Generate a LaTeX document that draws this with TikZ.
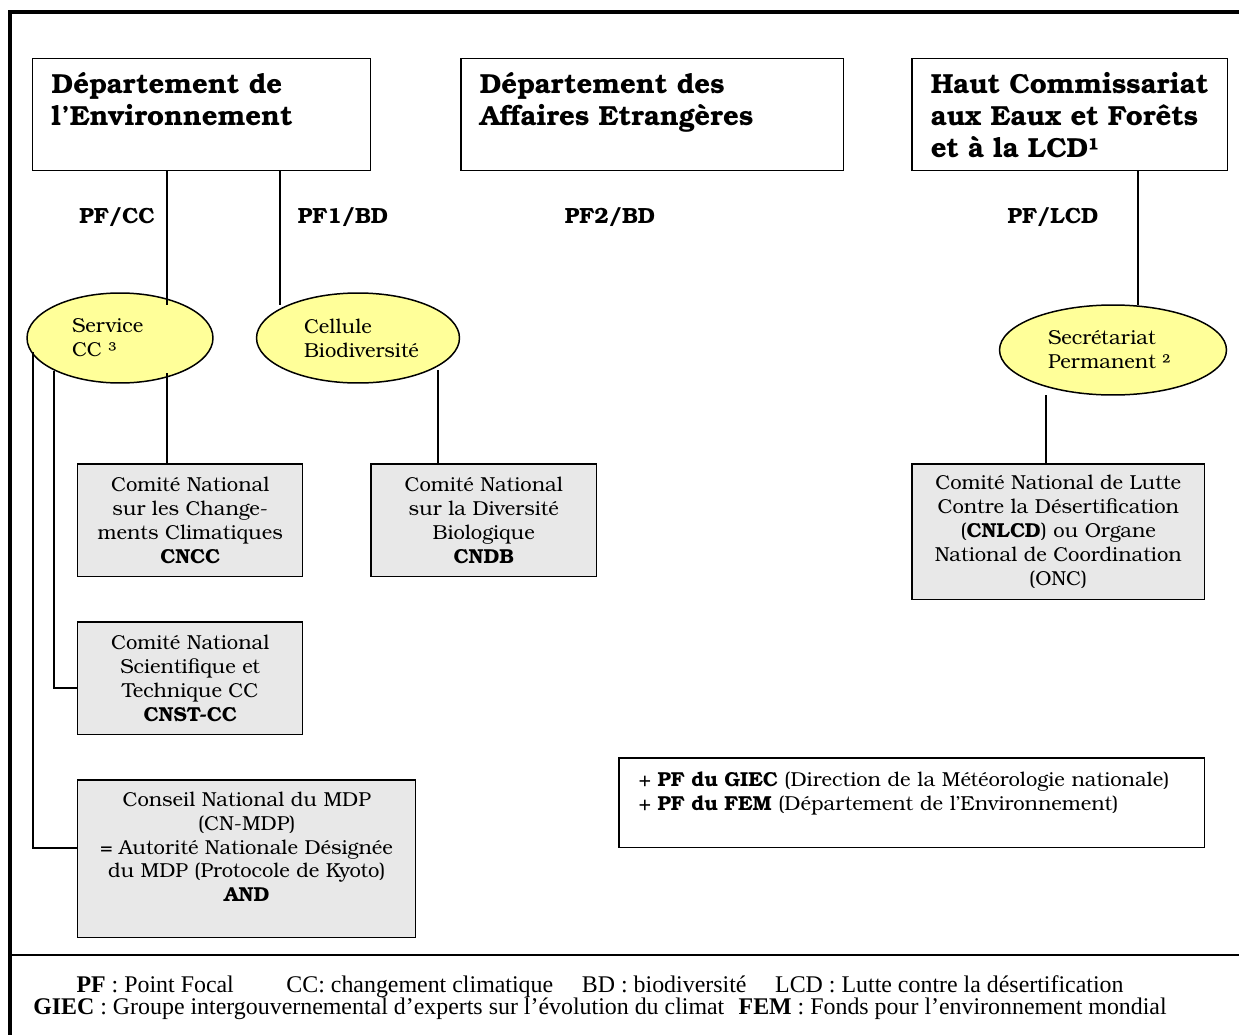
\documentclass[tikz,border=0pt]{standalone}
\usepackage{fontspec}
\setmainfont{texgyrebonum}[Extension=.otf, UprightFont=*-regular, BoldFont=*-bold, ItalicFont=*-italic, BoldItalicFont=*-bolditalic]
\newfontfamily\footfont{Liberation Serif}
\usetikzlibrary{shapes.geometric}
\definecolor{ellyellow}{RGB}{255,255,153}
\definecolor{boxgray}{RGB}{232,232,232}
\begin{document}
\begin{tikzpicture}[x=0.02cm,y=-0.02cm,
  head/.style={draw, line width=0.85pt, anchor=north west, align=left,
    font=\fontsize{15.7}{18.2}\selectfont\bfseries, inner xsep=0.38cm, inner ysep=0pt, minimum height=2.24cm},
  gbox/.style={draw, line width=0.85pt, fill=boxgray, anchor=north west, align=center,
    font=\fontsize{11.5}{13.6}\selectfont, inner sep=0pt},
  ell/.style={ellipse, draw, line width=0.85pt, fill=ellyellow, align=left,
    font=\fontsize{11.5}{13.6}\selectfont, inner sep=0pt, minimum height=1.8cm},
  pflabel/.style={font=\fontsize{12.5}{15}\selectfont\bfseries},
  conn/.style={line width=0.8pt}]
\useasboundingbox (0,0) rectangle (1239,1034);
% outer frame
\draw[line width=2.3pt] (10,1040) -- (10,12) -- (1245,12);
\draw[line width=1.4pt] (9,955) -- (1245,955);

% head boxes
\node[head, text width=6.0cm] (de) at (32,58) {Département de\\l’Environnement\\\mbox{}};
\node[head, text width=6.9cm] (dae) at (460,58) {Département des\\Affaires Etrangères\\\mbox{}};
\node[head, text width=5.56cm] (hc) at (911,58) {Haut Commissariat\\aux Eaux et Forêts\\et à la LCD¹};

% PF labels
\node[pflabel] (l1) at (117,217) {PF/CC};
\node[pflabel] (l2) at (343,217) {PF1/BD};
\node[pflabel] (l3) at (610,217) {PF2/BD};
\node[pflabel] (l4) at (1053,217) {PF/LCD};

% ellipses
\node[ell, minimum width=3.72cm, text width=1.92cm] (sc) at (120,338) {Service\\CC ³};
\node[ell, minimum width=4.06cm, text width=2.16cm] (cb) at (358,338) {Cellule\\Biodiversité};
\node[ell, minimum width=4.54cm, text width=2.6cm] (sp) at (1113,350) {Secrétariat\\Permanent ²};

% grey boxes
\node[gbox, minimum width=4.5cm, minimum height=2.26cm] (cncc) at (77,463)
  {Comité National\\sur les Change-\\ments Climatiques\\\textbf{CNCC}};
\node[gbox, minimum width=4.52cm, minimum height=2.26cm] (cndb) at (370,463)
  {Comité National\\sur la Diversité\\Biologique\\\textbf{CNDB}};
\node[gbox, minimum width=5.86cm, minimum height=2.72cm] (cnlcd) at (911,463)
  {Comité National de Lutte\\Contre la Désertification\\(\textbf{CNLCD}) ou Organe\\National de Coordination\\(ONC)};
\node[gbox, minimum width=4.5cm, minimum height=2.26cm] (cnst) at (77,621)
  {Comité National\\Scientifique et\\Technique CC\\\textbf{CNST-CC}};
\node[gbox, minimum width=6.76cm, minimum height=3.16cm] (cnmdp) at (77,779)
  {Conseil National du MDP\\(CN-MDP)\\= Autorité Nationale Désignée\\du MDP (Protocole de Kyoto)\\\textbf{AND}\\\mbox{}};

% note box
\node[draw, line width=0.85pt, anchor=north west, align=left, text width=10.92cm, inner xsep=0.4cm,
  inner ysep=0pt, minimum height=1.8cm, font=\fontsize{11.5}{13.6}\selectfont] (note) at (618,757)
  {+ \textbf{PF du GIEC} (Direction de la Météorologie nationale)\\+ \textbf{PF du FEM} (Département de l’Environnement)\\\mbox{}};

% connectors
\coordinate (p1) at (167,305);
\coordinate (p2) at (280,305);
\coordinate (p3) at (1138,305);
\coordinate (p4) at (167,373);
\coordinate (p5) at (438,370);
\coordinate (p6) at (1046,395);
\coordinate (p7) at (33,352);
\coordinate (p8) at (77,848);
\coordinate (p9) at (54,371);
\coordinate (p10) at (77,688);
\draw[conn] (de.south -| p1) -- (p1);
\draw[conn] (de.south -| p2) -- (p2);
\draw[conn] (hc.south -| p3) -- (p3);
\draw[conn] (p4) -- (cncc.north -| p4);
\draw[conn] (p5) -- (cndb.north -| p5);
\draw[conn] (p6) -- (cnlcd.north -| p6);
\draw[conn] (p7) |- (p8);
\draw[conn] (p9) |- (p10);

% footer
\node[font=\footfont\fontsize{13.6}{12.5}\selectfont, align=center] (foot) at (600,998)
  {\textbf{PF} : Point Focal\hspace{2.2em}CC: changement climatique\hspace{1.2em}BD : biodiversité\hspace{1.2em}LCD : Lutte contre la désertification\\
   \textbf{GIEC} : Groupe intergouvernemental d’experts sur l’évolution du climat\hspace{0.6em}\textbf{FEM} : Fonds pour l’environnement mondial};
\end{tikzpicture}
\end{document}
